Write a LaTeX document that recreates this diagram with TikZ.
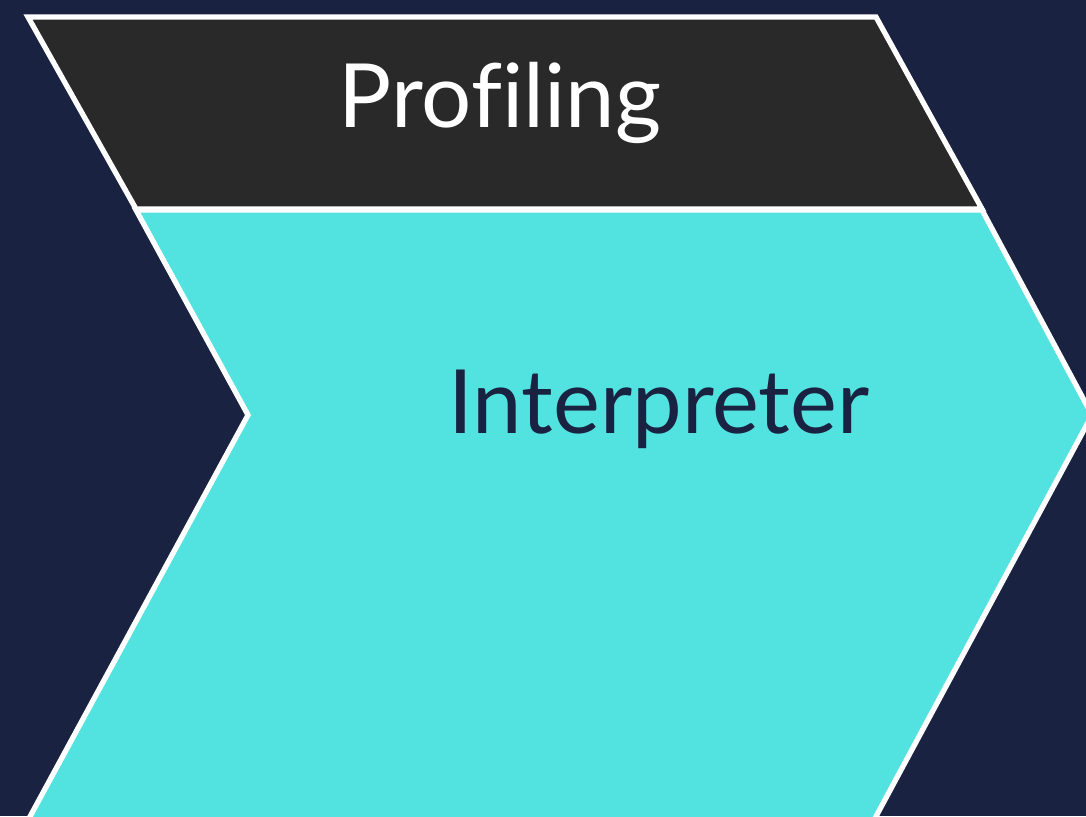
\documentclass[tikz,border=0pt]{standalone}
\usepackage{fontspec}
\setmainfont{Lato}[Ligatures=NoCommon]
\usetikzlibrary{positioning}
\definecolor{navy}{HTML}{1A2242}
\definecolor{stagegray}{HTML}{292929}
\definecolor{stagecyan}{HTML}{52E3E1}
\tikzset{
  stage/.style={draw=white,line width=1.5pt,line join=miter},
  label/.style={font=\fontsize{25.2}{30}\selectfont,inner sep=0pt,anchor=base}
}

\begin{document}
\begin{tikzpicture}[x=0.01cm,y=-0.01cm]
  \fill[navy] (0,0) rectangle (1086,816);
  \useasboundingbox (0,0) rectangle (1086,816);
  \clip (0,0) rectangle (1086,816);

  % profiling band
  \filldraw[stage,fill=stagegray] (28,17) -- (876,17) -- (982,209) -- (136,209) -- cycle;
  % interpreter chevron
  \filldraw[stage,fill=stagecyan] (136,210) -- (982,210) -- (1092,415) -- (866,835)
    -- (20,835) -- (248,415) -- cycle;

  \node[label,text=white] (prof) at (500,128) {Profiling};
  \node[label,text=navy] (interp) at (659,433) {Interpreter};
\end{tikzpicture}
\end{document}
